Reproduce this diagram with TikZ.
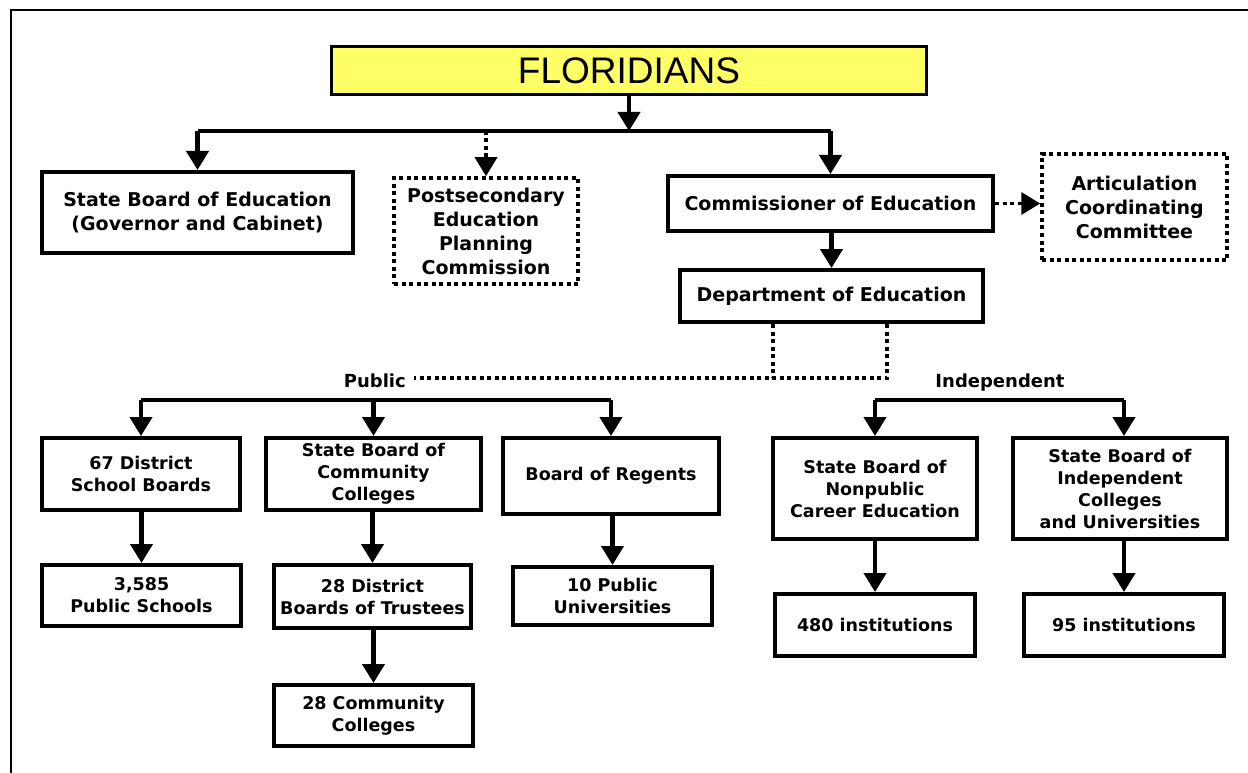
\documentclass[tikz,border=0pt]{standalone}
\usepackage{fontspec}
\setmainfont{DejaVu Sans}
\newfontfamily\titlefont{Liberation Sans}
\usetikzlibrary{arrows.meta}
\definecolor{flyellow}{RGB}{255,255,102}
\begin{document}
\begin{tikzpicture}[x=1pt,y=-1pt,
  box/.style={draw, line width=4pt, inner sep=0pt, align=center, font=\bfseries\fontsize{19}{24}\selectfont},
  sbox/.style={box, font=\bfseries\fontsize{17.5}{22}\selectfont},
  dbox/.style={box, line width=3.5pt, dash pattern=on 4pt off 3.5pt},
  ln/.style={line width=4.2pt},
  arr/.style={ln, -{Triangle[width=22pt,length=19pt]}},
  dln/.style={line width=3.6pt, dash pattern=on 4pt off 3.5pt},
  darr/.style={dln, -{Triangle[width=22pt,length=19pt]}},
  lbl/.style={inner sep=0pt, font=\bfseries\fontsize{18}{22}\selectfont}]
\useasboundingbox (0,0) rectangle (1248,773);
\draw[line width=1.6pt] (11,773) -- (11,10) -- (1248,10);

% top
\node[draw, line width=3pt, fill=flyellow, minimum width=595pt, minimum height=48pt, inner sep=0pt,
      font=\titlefont\fontsize{37}{40}\selectfont] (flor) at (629,70.5) {FLORIDIANS};
\node[box, minimum width=311pt, minimum height=81pt] (sbe) at (197.5,212.5) {State Board of Education\\(Governor and Cabinet)};
\node[dbox, minimum width=184pt, minimum height=106pt] (pepc) at (486,231) {Postsecondary\\Education\\Planning\\Commission};
\node[box, minimum width=325pt, minimum height=55pt] (comm) at (830.5,203.5) {Commissioner of Education};
\node[dbox, minimum width=185pt, minimum height=106pt] (acc) at (1134.5,207) {Articulation\\Coordinating\\Committee};
\node[box, minimum width=303pt, minimum height=52pt] (dept) at (831.5,296) {Department of Education};

% labels
\node[lbl, anchor=east] (public) at (406,381) {Public};
\node[lbl] (indep) at (1000,383) {Independent};

% row 1
\node[sbox, minimum width=198pt, minimum height=72pt] (dsb) at (141,474) {67 District\\School Boards};
\node[sbox, minimum width=215pt, minimum height=72pt] (sbcc) at (373.5,474) {State Board of\\Community\\Colleges};
\node[sbox, minimum width=216pt, minimum height=76pt] (bor) at (611,476) {Board of Regents};
\node[sbox, minimum width=204pt, minimum height=101pt] (npce) at (875,488.5) {State Board of\\Nonpublic\\Career Education};
\node[sbox, minimum width=214pt, minimum height=101pt] (sbicu) at (1120,488.5) {State Board of\\Independent\\Colleges\\and Universities};

% row 2
\node[sbox, minimum width=199pt, minimum height=61pt] (ps) at (141.5,595.5) {3,585\\Public Schools};
\node[sbox, minimum width=197pt, minimum height=63pt] (dbt) at (372.5,596.5) {28 District\\Boards of Trustees};
\node[sbox, minimum width=199pt, minimum height=58pt] (pu) at (612.5,596) {10 Public\\Universities};
\node[sbox, minimum width=200pt, minimum height=62pt] (i480) at (875,625) {480 institutions};
\node[sbox, minimum width=200pt, minimum height=62pt] (i95) at (1124,625) {95 institutions};

% row 3
\node[sbox, minimum width=199pt, minimum height=61pt] (cc) at (373.5,715.5) {28 Community\\Colleges};

% bus coordinates
\coordinate (busT) at (629,131);
\coordinate (busP) at (373,400);
\coordinate (busI) at (1000,400);
\coordinate (dl) at (773,378);
\coordinate (dr) at (887,378);

% top connectors
\draw[arr] (flor.south) -- (flor.south |- busT);
\draw[ln] (sbe.north |- busT) -- (comm.north |- busT);
\draw[arr] (sbe.north |- busT) -- (sbe.north);
\draw[darr] (pepc.north |- busT) -- (pepc.north);
\draw[arr] (comm.north |- busT) -- (comm.north);
\draw[darr] (comm.east) -- (comm.east -| acc.west);
\draw[arr] (comm.south -| dept.north) -- (dept.north);

% dotted from department
\draw[dln] (dl |- dept.south) -- (dl);
\draw[dln] (dr |- dept.south) -- (dr) -- ([xshift=8pt]dr -| public.east);

% public bus
\draw[ln] (dsb.north |- busP) -- (bor.north |- busP);
\draw[arr] (dsb.north |- busP) -- (dsb.north);
\draw[arr] (sbcc.north |- busP) -- (sbcc.north);
\draw[arr] (bor.north |- busP) -- (bor.north);

% independent bus
\draw[ln] (npce.north |- busI) -- (i95.north |- busI);
\draw[arr] (npce.north |- busI) -- (npce.north);
\draw[arr] (i95.north |- busI) -- (i95.north |- sbicu.north);

% row connectors
\draw[arr] (dsb.south -| ps.north) -- (ps.north);
\draw[arr] (sbcc.south -| dbt.north) -- (dbt.north);
\draw[arr] (bor.south -| pu.north) -- (pu.north);
\draw[arr] (npce.south -| i480.north) -- (i480.north);
\draw[arr] (sbicu.south -| i95.north) -- (i95.north);
\draw[arr] (dbt.south -| cc.north) -- (cc.north);
\end{tikzpicture}
\end{document}
